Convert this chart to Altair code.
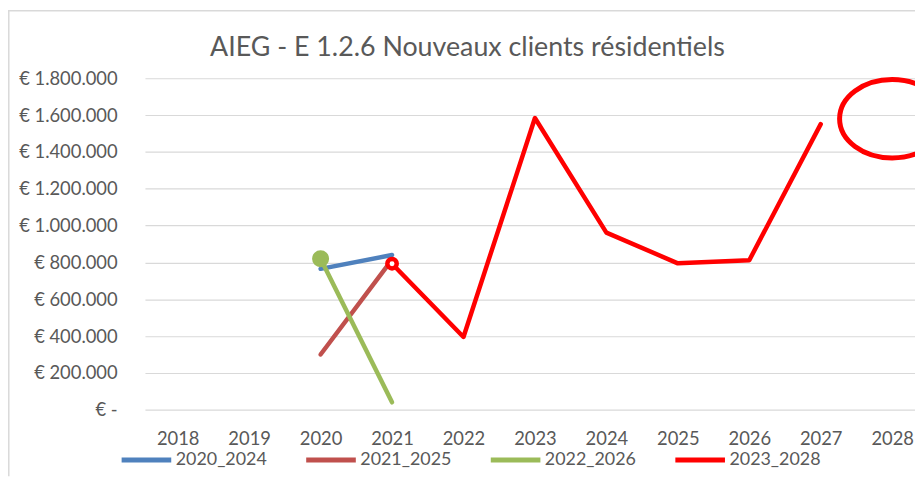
import altair as alt
import pandas as pd

# ---- data ----
years = list(range(2018, 2029))
series_names = ["2020_2024", "2021_2025", "2022_2026", "2023_2028"]
series_colors = ["#4F81BD", "#C0504D", "#9BBB59", "#FF0000"]
series_widths = [4.5, 4.5, 4.5, 5.5]

s2020_2024_years = [2020, 2021]
s2020_2024_values = [765000, 840000]
s2021_2025_years = [2020, 2021]
s2021_2025_values = [300000, 815000]
s2022_2026_years = [2020, 2021]
s2022_2026_values = [820000, 40000]
s2023_2028_years = [2021, 2022, 2023, 2024, 2025, 2026, 2027]
s2023_2028_values = [793000, 395000, 1584000, 962000, 795000, 812000, 1551000]

y_ticks = [0, 200000, 400000, 600000, 800000, 1000000, 1200000, 1400000, 1600000, 1800000]
title_text = "AIEG - E 1.2.6 Nouveaux clients résidentiels"

# highlighted points (first point of two series)
marker_series = ["2022_2026", "2023_2028"]
marker_years = [2020, 2021]
marker_values = [820000, 793000]

# red ellipse annotation
annot_years = [2028]
annot_values = [1580000]

# ---- tables ----
rows = []
for name, ys, vs in [
    ("2020_2024", s2020_2024_years, s2020_2024_values),
    ("2021_2025", s2021_2025_years, s2021_2025_values),
    ("2022_2026", s2022_2026_years, s2022_2026_values),
    ("2023_2028", s2023_2028_years, s2023_2028_values),
]:
    for y, v in zip(ys, vs):
        rows.append({"series": name, "year": y, "value": v})
df = pd.DataFrame(rows)
df_markers = pd.DataFrame({"series": marker_series, "year": marker_years, "value": marker_values})
df_annot = pd.DataFrame({"year": annot_years, "value": annot_values})

FONT = "Lato"
GREY = "#595959"

x_enc = alt.X(
    "year:Q",
    scale=alt.Scale(domain=[2017.5417, 2028.3194], nice=False, zero=False),
    axis=alt.Axis(values=years, format="d", title="", grid=False, domain=False, ticks=False,
                  labelPadding=20, labelFontSize=18.5, labelFont=FONT, labelColor=GREY,
                  labelBaseline="top"),
)
y_enc = alt.Y(
    "value:Q",
    scale=alt.Scale(domain=[0, 1800000], nice=False),
    axis=alt.Axis(values=y_ticks, title="", domain=False, ticks=False, grid=True,
                  gridColor="#D9D9D9", gridWidth=1.2, labelPadding=28,
                  labelFontSize=18.5, labelFont=FONT, labelColor=GREY,
                  labelExpr="datum.value == 0 ? '€ -\u00a0\u00a0' : '€ ' + replace(format(datum.value, ',d'), regexp(',', 'g'), '.')"),
)

lines = alt.Chart(df).mark_line(strokeCap="round", strokeJoin="round").encode(
    x=x_enc,
    y=y_enc,
    color=alt.Color(
        "series:N",
        scale=alt.Scale(domain=series_names, range=series_colors),
        legend=alt.Legend(
            orient="none", legendX=-26, legendY=357, direction="horizontal",
            symbolType="stroke", symbolSize=2500, symbolStrokeWidth=5,
            labelFontSize=18, labelFont=FONT, labelColor=GREY, labelOffset=2,
            columnPadding=29, padding=0, title=None,
        ),
    ),
    strokeWidth=alt.StrokeWidth(
        "series:N", scale=alt.Scale(domain=series_names, range=series_widths), legend=None
    ),
    detail="series:N",
)

markers = alt.Chart(df_markers).mark_point(filled=False, opacity=1).encode(
    x=x_enc,
    y=y_enc,
    stroke=alt.Stroke("series:N", scale=alt.Scale(domain=series_names, range=series_colors), legend=None),
    fill=alt.Fill("series:N", scale=alt.Scale(domain=["2022_2026", "2023_2028"], range=["#9BBB59", "#FFFFFF"]), legend=None),
    size=alt.Size("series:N", scale=alt.Scale(domain=["2022_2026", "2023_2028"], range=[160, 90]), legend=None),
    strokeWidth=alt.StrokeWidth("series:N", scale=alt.Scale(domain=["2022_2026", "2023_2028"], range=[1, 3.5]), legend=None),
)

ellipse_path = ("M -1 0 C -1 -0.4114 -0.5523 -0.745 0 -0.745 C 0.5523 -0.745 1 -0.4114 1 0 "
                "C 1 0.4114 0.5523 0.745 0 0.745 C -0.5523 0.745 -1 0.4114 -1 0 Z")
ellipse = alt.Chart(df_annot).mark_point(
    shape=ellipse_path, filled=False, stroke="#FF0000", strokeWidth=5, size=11236, opacity=1
).encode(x=x_enc, y=y_enc)

title = alt.Chart(pd.DataFrame({"t": [title_text]})).mark_text(
    font=FONT, fontSize=27, color=GREY, align="center", baseline="alphabetic"
).encode(x=alt.value(325), y=alt.value(-22), text="t:N")

frame_top = alt.Chart(pd.DataFrame({"a": [0]})).mark_rule(color="#D9D9D9", strokeWidth=1.5).encode(
    x=alt.value(-138), x2=alt.value(776), y=alt.value(-68)
)
frame_left = alt.Chart(pd.DataFrame({"a": [0]})).mark_rule(color="#D9D9D9", strokeWidth=1.5).encode(
    x=alt.value(-137.2), y=alt.value(-68), y2=alt.value(401)
)

chart = alt.layer(frame_top, frame_left, title, lines, markers, ellipse).properties(
    width=776, height=334,
    autosize=alt.AutoSizeParams(type="none"),
    padding={"left": 138, "top": 69, "right": 0, "bottom": 67},
    background="#FFFFFF",
).configure_view(strokeWidth=0)

chart.save("out.html", embed_options={"renderer": "svg", "actions": False})
